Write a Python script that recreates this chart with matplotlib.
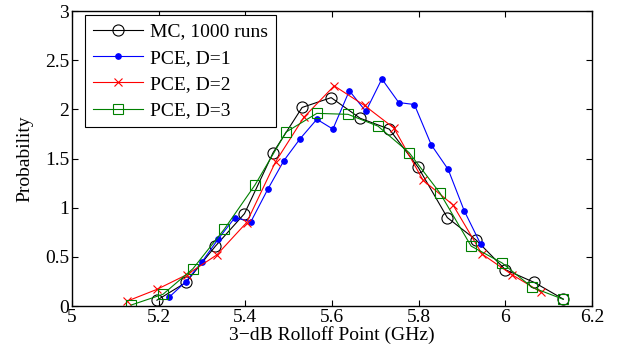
import matplotlib
matplotlib.use("Agg")
import matplotlib.pyplot as plt

# MC, 1000 runs
mc_x = [5.196, 5.263, 5.331, 5.398, 5.464, 5.531, 5.598, 5.665, 5.732, 5.799,
        5.866, 5.933, 6.000, 6.067, 6.134]
mc_y = [0.06, 0.24, 0.61, 0.94, 1.56, 2.02, 2.12, 1.91, 1.80, 1.41,
        0.90, 0.67, 0.37, 0.24, 0.07]

# PCE, D=1
d1_x = [5.224, 5.263, 5.300, 5.337, 5.376, 5.413, 5.452, 5.489, 5.526, 5.565,
        5.602, 5.640, 5.678, 5.715, 5.754, 5.790, 5.829, 5.868, 5.905, 5.943]
d1_y = [0.09, 0.25, 0.45, 0.68, 0.90, 0.86, 1.19, 1.48, 1.70, 1.90,
        1.80, 2.19, 1.98, 2.31, 2.07, 2.05, 1.64, 1.39, 0.97, 0.63]

# PCE, D=2
d2_x = [5.127, 5.196, 5.265, 5.334, 5.403, 5.470, 5.535, 5.605, 5.675, 5.743,
        5.810, 5.879, 5.946, 6.015, 6.083]
d2_y = [0.05, 0.17, 0.32, 0.52, 0.85, 1.47, 1.92, 2.24, 2.04, 1.81,
        1.28, 1.03, 0.53, 0.32, 0.14]

# PCE, D=3
d3_x = [5.136, 5.210, 5.279, 5.351, 5.422, 5.494, 5.565, 5.637, 5.706, 5.778,
        5.849, 5.921, 5.992, 6.062, 6.133]
d3_y = [0.01, 0.12, 0.38, 0.78, 1.23, 1.77, 1.96, 1.95, 1.83, 1.56,
        1.15, 0.61, 0.44, 0.19, 0.07]

x_ticks = [5, 5.2, 5.4, 5.6, 5.8, 6, 6.2]
x_labels = ["5", "5.2", "5.4", "5.6", "5.8", "6", "6.2"]
y_ticks = [0, 0.5, 1, 1.5, 2, 2.5, 3]
y_labels = ["0", "0.5", "1", "1.5", "2", "2.5", "3"]

plt.rcParams["font.family"] = ["Liberation Serif", "DejaVu Serif"]
plt.rcParams["font.size"] = 14

fig = plt.figure(figsize=(6.18, 3.58), dpi=100)
ax = fig.add_axes([0.1165, 0.145, 0.8415, 0.824])

ax.plot(mc_x, mc_y, "-o", color="black", lw=0.8, ms=8, mfc="none", mew=0.8,
        label="MC, 1000 runs")
ax.plot(d1_x, d1_y, "-o", color="blue", lw=0.8, ms=4, mew=0.8,
        label="PCE, D=1")
ax.plot(d2_x, d2_y, "-x", color="red", lw=0.8, ms=6, mew=0.8,
        label="PCE, D=2")
ax.plot(d3_x, d3_y, "-s", color=(0, 0.5, 0), lw=0.8, ms=6.5, mfc="none", mew=0.8,
        label="PCE, D=3")

ax.set_xlim(5, 6.2)
ax.set_ylim(0, 3)
ax.set_xticks(x_ticks)
ax.set_xticklabels(x_labels)
ax.set_yticks(y_ticks)
ax.set_yticklabels(y_labels)
ax.tick_params(direction="in", top=True, right=True, length=4, width=0.8, pad=2)
for s in ax.spines.values():
    s.set_linewidth(1.0)

ax.set_xlabel("3\u2212dB Rolloff Point (GHz)", labelpad=0)
ax.set_ylabel("Probability", labelpad=8)

leg = ax.legend(loc="upper left", bbox_to_anchor=(85 / 618, 1 - 15 / 358),
                bbox_transform=fig.transFigure, borderaxespad=0,
                fancybox=False, edgecolor="black", framealpha=1,
                handlelength=2.6, borderpad=0.4, labelspacing=0.45,
                handletextpad=0.35)
leg.get_frame().set_linewidth(0.8)

fig.savefig("out.png", dpi=100)
